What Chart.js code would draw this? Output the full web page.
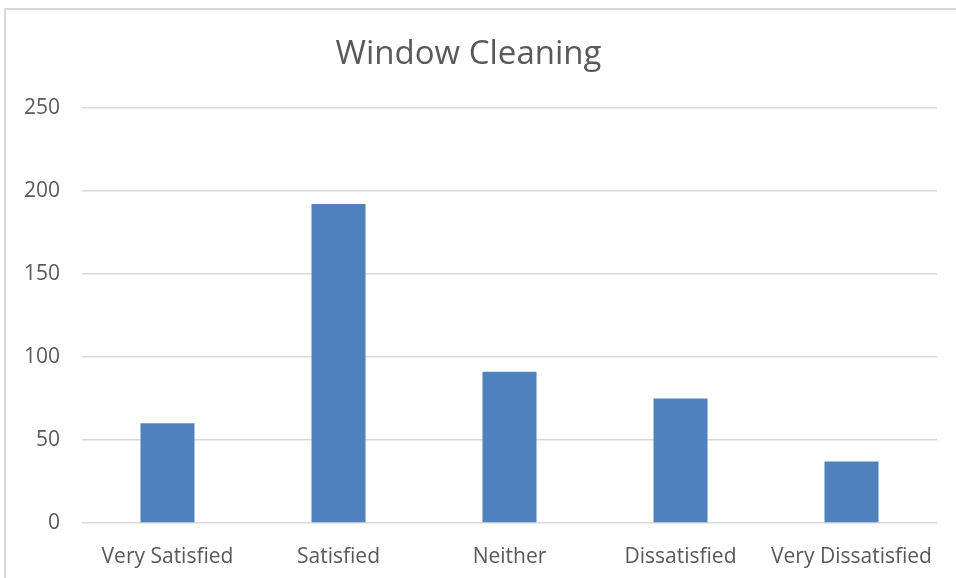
<!DOCTYPE html>
<html>
<head>
<meta charset="UTF-8">
<title>Window Cleaning</title>
<script src="https://cdn.jsdelivr.net/npm/chart.js@4/dist/chart.umd.min.js"></script>
<style>
	body { margin:0; background:#fff; }
	#frame { position:absolute; left:4px; top:8px; width:1000px; height:1000px; border:2px solid #d9d9d9; }
	#wrap { position:absolute; left:0; top:0; width:956px; height:578px; }
</style>
</head>
<body>
	<div id="frame"></div>
	<div id="wrap"><canvas id="myChart" width="956" height="578"></canvas></div>

	<script>
		// chart data
		let categories = ['Very Satisfied', 'Satisfied', 'Neither', 'Dissatisfied', 'Very Dissatisfied'];
		let counts = [60, 192, 91, 75, 37];
		let yTicks = [0, 50, 100, 150, 200, 250];
		let chartTitle = 'Window Cleaning';

		Chart.defaults.font.family = '"Open Sans", sans-serif';
		Chart.defaults.color = '#595959';

		new Chart("myChart", {
		  type: "bar",
		  data: {
		    labels: categories,
		    datasets: [{
		      backgroundColor: '#4f81bd',
		      borderWidth: 0,
		      data: counts,
		      barPercentage: 1,
		      categoryPercentage: 0.316
		    }]
		  },
		  options: {
		    responsive: false,
		    animation: false,
		    layout: { padding: { left: 0, right: 19, top: 0, bottom: 0 } },
		    plugins: {
		      legend: { display: false },
		      tooltip: { enabled: false },
		      title: {
		        display: true,
		        text: chartTitle,
		        color: '#595959',
		        font: { size: 33, weight: 'normal', lineHeight: 1.2 },
		        padding: { top: 35, bottom: 33 }
		      }
		    },
		    scales: {
		      x: {
		        afterFit: function(scale) { scale.height = 55; },
		        grid: { display: false },
		        border: { display: false },
		        ticks: { font: { size: 21 }, padding: 13, maxRotation: 0, autoSkip: false }
		      },
		      y: {
		        min: yTicks[0],
		        max: yTicks[yTicks.length - 1],
		        afterFit: function(scale) { scale.width = 82; },
		        afterBuildTicks: function(scale) { scale.ticks = yTicks.map(v => ({ value: v })); },
		        grid: { color: '#d9d9d9', lineWidth: 1.5, drawTicks: false },
		        border: { display: false },
		        ticks: { font: { size: 21 }, padding: 22 }
		      }
		    }
		  }
		});
	</script>
</body>
</html>
